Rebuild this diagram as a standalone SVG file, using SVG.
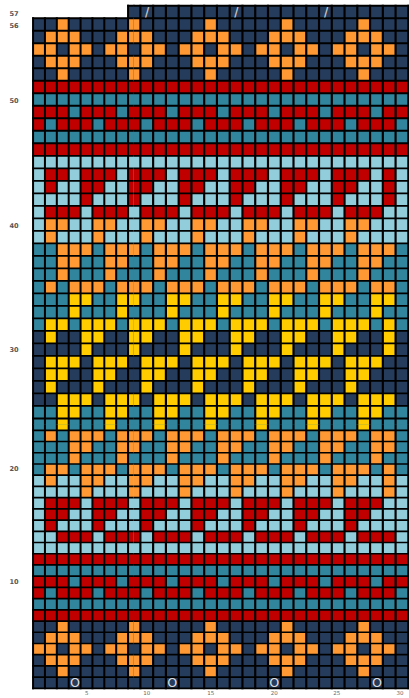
<svg xmlns="http://www.w3.org/2000/svg" width="409" height="698" viewBox="0 0 409 698">
<style>
.N{fill:#263c5c}.O{fill:#ff9933}.R{fill:#c00000}.T{fill:#31859c}.L{fill:#92cddc}.Y{fill:#ffcc00}
.a{fill:none;stroke-width:1}
.sO{stroke:#ff9933}.sR{stroke:#c00000}.sT{stroke:#31859c}.sY{stroke:#ffcc00}
.d15{stroke-dasharray:1 5}.d33{stroke-dasharray:3 3}.d21{stroke-dasharray:2 1}.d13{stroke-dasharray:1 3}.d31{stroke-dasharray:3 1}.d22{stroke-dasharray:2 2}
.o1{stroke-dashoffset:1}.o2{stroke-dashoffset:2}
.gv{fill:none;stroke:#000;stroke-width:0.17;stroke-linecap:square}
.gh{fill:none;stroke:#000;stroke-width:0.15;stroke-linecap:square}
.lab{font-family:"DejaVu Sans",sans-serif;font-size:6.6px;font-weight:bold;fill:#555}
.num{font-family:"DejaVu Sans",sans-serif;font-size:5.5px;fill:#666;text-anchor:middle}
.ring{font-family:"DejaVu Sans",sans-serif;font-size:12.7px;fill:#dcdcdc;text-anchor:middle}
.sl{font-family:"DejaVu Sans",sans-serif;font-size:11.5px;font-weight:bold;fill:#c8c8c8;text-anchor:middle}
</style>
<defs>
<g id="cells">
<rect x="8" y="0" width="22" height="1" class="N"/>
<rect x="0" y="1" width="30" height="5" class="N"/>
<rect x="0" y="6" width="30" height="1" class="R"/>
<rect x="0" y="7" width="30" height="1" class="T"/>
<rect x="0" y="8" width="30" height="2" class="R"/>
<rect x="0" y="10" width="30" height="1" class="T"/>
<rect x="0" y="11" width="30" height="1" class="R"/>
<rect x="0" y="12" width="30" height="7" class="L"/>
<rect x="0" y="19" width="30" height="7" class="T"/>
<rect x="0" y="26" width="30" height="6" class="N"/>
<rect x="0" y="32" width="30" height="6" class="T"/>
<rect x="0" y="38" width="30" height="7" class="L"/>
<rect x="0" y="45" width="30" height="1" class="R"/>
<rect x="0" y="46" width="30" height="1" class="T"/>
<rect x="0" y="47" width="30" height="2" class="R"/>
<rect x="0" y="49" width="30" height="1" class="T"/>
<rect x="0" y="50" width="30" height="1" class="R"/>
<rect x="0" y="51" width="30" height="6" class="N"/>
<path class="a sO d15" d="M2 1.5H30"/>
<path class="a sO d33" d="M1 2.5H30"/>
<path class="a sO d21" d="M0 3.5H30"/>
<path class="a sO d33" d="M1 4.5H30"/>
<path class="a sO d15" d="M2 5.5H30"/>
<path class="a sT d13" d="M3 8.5H30"/>
<path class="a sT d13" d="M1 9.5H30"/>
<path class="a sR d31 o1" d="M1 13.5H29"/>
<path class="a sR d22 o1" d="M1 14.5H29"/>
<path class="a sR d13" d="M4 15.5H30"/>
<path class="a sR d31" d="M1 16.5H29"/>
<path class="a sO d22" d="M1 17.5H29"/>
<path class="a sO d13" d="M1 18.5H29"/>
<path class="a sO d31" d="M2 19.5H30"/>
<path class="a sO d22" d="M2 20.5H30"/>
<path class="a sO d13" d="M2 21.5H30"/>
<path class="a sO d31 o2" d="M1 22.5H29"/>
<path class="a sY d22" d="M3 23.5H30"/>
<path class="a sY d13" d="M3 24.5H30"/>
<path class="a sY d31 o1" d="M1 25.5H29"/>
<path class="a sY d22 o1" d="M1 26.5H29"/>
<path class="a sY d13" d="M4 27.5H30"/>
<path class="a sY d31" d="M1 28.5H29"/>
<path class="a sY d22" d="M1 29.5H29"/>
<path class="a sY d13" d="M1 30.5H29"/>
<path class="a sY d31" d="M2 31.5H30"/>
<path class="a sY d22" d="M2 32.5H30"/>
<path class="a sY d13" d="M2 33.5H30"/>
<path class="a sO d31 o2" d="M1 34.5H29"/>
<path class="a sO d22" d="M3 35.5H30"/>
<path class="a sO d13" d="M3 36.5H30"/>
<path class="a sO d31 o1" d="M1 37.5H29"/>
<path class="a sO d22 o1" d="M1 38.5H29"/>
<path class="a sO d13" d="M4 39.5H30"/>
<path class="a sR d31" d="M1 40.5H29"/>
<path class="a sR d22" d="M1 41.5H29"/>
<path class="a sR d13" d="M1 42.5H29"/>
<path class="a sR d31" d="M2 43.5H30"/>
<path class="a sT d13" d="M3 47.5H30"/>
<path class="a sT d13" d="M1 48.5H30"/>
<path class="a sO d15" d="M2 51.5H30"/>
<path class="a sO d33" d="M1 52.5H30"/>
<path class="a sO d21" d="M0 53.5H30"/>
<path class="a sO d33" d="M1 54.5H30"/>
<path class="a sO d15" d="M2 55.5H30"/>
<path class="gv" d="M0 1V57M1 1V57M2 1V57M3 1V57M4 1V57M5 1V57M6 1V57M7 1V57M8 0V57M9 0V57M10 0V57M11 0V57M12 0V57M13 0V57M14 0V57M15 0V57M16 0V57M17 0V57M18 0V57M19 0V57M20 0V57M21 0V57M22 0V57M23 0V57M24 0V57M25 0V57M26 0V57M27 0V57M28 0V57M29 0V57M30 0V57"/>
<path class="gh" d="M8 0H30M0 1H30M0 2H30M0 3H30M0 4H30M0 5H30M0 6H30M0 7H30M0 8H30M0 9H30M0 10H30M0 11H30M0 12H30M0 13H30M0 14H30M0 15H30M0 16H30M0 17H30M0 18H30M0 19H30M0 20H30M0 21H30M0 22H30M0 23H30M0 24H30M0 25H30M0 26H30M0 27H30M0 28H30M0 29H30M0 30H30M0 31H30M0 32H30M0 33H30M0 34H30M0 35H30M0 36H30M0 37H30M0 38H30M0 39H30M0 40H30M0 41H30M0 42H30M0 43H30M0 44H30M0 45H30M0 46H30M0 47H30M0 48H30M0 49H30M0 50H30M0 51H30M0 52H30M0 53H30M0 54H30M0 55H30M0 56H30M0 57H30"/>
</g>
<clipPath id="cyT" clipPathUnits="userSpaceOnUse"><rect x="-1" y="-1" width="32" height="34.55"/></clipPath>
<clipPath id="cyB" clipPathUnits="userSpaceOnUse"><rect x="-1" y="33.45" width="32" height="25"/></clipPath>
<g id="ywarp">
<use href="#cells" transform="matrix(1 0 0 12.506 0 5.741)" clip-path="url(#cyT)"/>
<use href="#cells" transform="matrix(1 0 0 11.22 0 48.83)" clip-path="url(#cyB)"/>
</g>
<clipPath id="cxL" clipPathUnits="userSpaceOnUse"><rect x="-1" y="-10" width="9.55" height="720"/></clipPath>
<clipPath id="cxR" clipPathUnits="userSpaceOnUse"><rect x="8.45" y="-10" width="23" height="720"/></clipPath>
</defs>
<rect width="409" height="698" fill="#fff"/>
<g id="chart">
<use href="#ywarp" transform="matrix(11.875 0 0 1 33.0625 0)" clip-path="url(#cxL)"/>
<use href="#ywarp" transform="matrix(12.76 0 0 1 25.54 0)" clip-path="url(#cxR)"/>
</g>
<g id="marks">
<text class="sl" x="147" y="16.2">/</text>
<text class="sl" x="236.3" y="16.2">/</text>
<text class="sl" x="326" y="16.2">/</text>
<text class="ring" x="75" y="687.4">O</text>
<text class="ring" x="172.3" y="687.4">O</text>
<text class="ring" x="274.3" y="687.4">O</text>
<text class="ring" x="377" y="687.4">O</text>
</g>
<g id="row-labels">
<text class="lab" x="9.5" y="16.1">57</text>
<text class="lab" x="9.5" y="27.9">56</text>
<text class="lab" x="9.5" y="102.7">50</text>
<text class="lab" x="9.5" y="228.1">40</text>
<text class="lab" x="9.5" y="352.1">30</text>
<text class="lab" x="9.5" y="471.4">20</text>
<text class="lab" x="9.5" y="583.9">10</text>
</g>
<g id="col-labels">
<text class="num" x="86.7" y="695.3">5</text>
<text class="num" x="146.7" y="695.3">10</text>
<text class="num" x="210.7" y="695.3">15</text>
<text class="num" x="274.2" y="695.3">20</text>
<text class="num" x="336.7" y="695.3">25</text>
<text class="num" x="400" y="695.3">30</text>
</g>
</svg>
